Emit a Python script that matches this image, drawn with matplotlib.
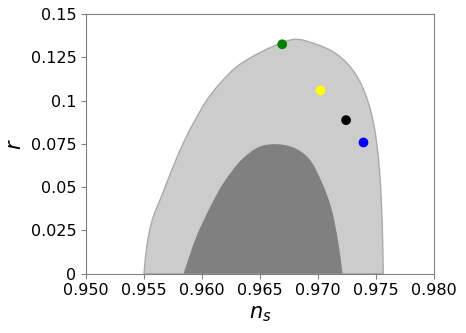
import matplotlib.pyplot as plt
import numpy as np
from matplotlib.path import Path
from matplotlib.patches import PathPatch

# outer (light) contour
outer_ns = [0.95500, 0.95523, 0.95570, 0.95660, 0.95750, 0.95850, 0.95940, 0.96040,
            0.96154, 0.96298, 0.96450, 0.96585, 0.96800, 0.96960, 0.97130, 0.97256,
            0.97343, 0.97403, 0.97446, 0.97480, 0.97506, 0.97528, 0.97545, 0.97555,
            0.97560]
outer_r = [0.0, 0.0155, 0.0309, 0.0463, 0.0617, 0.0771, 0.0887, 0.1002,
           0.1099, 0.1195, 0.1260, 0.1305, 0.1354, 0.1330, 0.1281, 0.1210,
           0.1129, 0.1043, 0.0956, 0.0858, 0.0742, 0.0598, 0.0396, 0.0194,
           0.0]

# inner (dark) contour
inner_ns = [0.9584, 0.9595, 0.9607, 0.9619, 0.9635, 0.9650, 0.9664, 0.9679,
            0.9692, 0.9703, 0.9711, 0.9717, 0.9721]
inner_r = [0.0, 0.0213, 0.0386, 0.0530, 0.0665, 0.0735, 0.0748, 0.0728,
           0.0665, 0.0530, 0.0386, 0.0194, 0.0]

# model points
pt_ns = [0.9669, 0.9702, 0.9724, 0.9739]
pt_r = [0.1325, 0.1059, 0.0887, 0.0758]
pt_colors = ['green', 'yellow', 'black', 'blue']


def smooth_path(xs, ys):
    # centripetal catmull-rom through the read points, as cubic bezier segments
    sx, sy = 1 / 0.03, 1 / 0.15
    p = np.column_stack([np.array(xs) * sx, np.array(ys) * sy])
    ext = np.vstack([2 * p[0] - p[1], p, 2 * p[-1] - p[-2]])
    t = np.concatenate([[0], np.cumsum(np.linalg.norm(np.diff(ext, axis=0), axis=1) ** 0.5)])
    verts = [p[0]]
    codes = [Path.MOVETO]
    for i in range(1, len(ext) - 2):
        p0, p1, p2, p3 = ext[i - 1:i + 3]
        t0, t1, t2, t3 = t[i - 1:i + 3]
        m1 = (t2 - t1) * ((p1 - p0) / (t1 - t0) - (p2 - p0) / (t2 - t0) + (p2 - p1) / (t2 - t1))
        m2 = (t2 - t1) * ((p2 - p1) / (t2 - t1) - (p3 - p1) / (t3 - t1) + (p3 - p2) / (t3 - t2))
        verts += [p1 + m1 / 3, p2 - m2 / 3, p2]
        codes += [Path.CURVE4] * 3
    verts.append(p[0])
    codes.append(Path.CLOSEPOLY)
    verts = np.array(verts) / [sx, sy]
    return Path(verts, codes)


fig = plt.figure(figsize=(4.66, 3.33), dpi=100)
ax = fig.add_axes([0.1845, 0.178, 0.7475, 0.78])

ax.add_patch(PathPatch(smooth_path(outer_ns, outer_r), facecolor='#cccccc',
                       edgecolor='#aaaaaa', linewidth=1.0))
ax.add_patch(PathPatch(smooth_path(inner_ns, inner_r), facecolor='#808080',
                       edgecolor='none'))
ax.scatter(pt_ns, pt_r, c=pt_colors, s=36, zorder=3)

ax.set_xlim(0.950, 0.980)
ax.set_ylim(0, 0.15)
ax.set_xticks(np.arange(0.950, 0.9801, 0.005))
ax.set_xticklabels(['0.950', '0.955', '0.960', '0.965', '0.970', '0.975', '0.980'])
ax.set_yticks([0, 0.025, 0.05, 0.075, 0.1, 0.125, 0.15])
ax.set_yticklabels(['0', '0.025', '0.05', '0.075', '0.1', '0.125', '0.15'])
ax.tick_params(labelsize=11.5, color='#808080')
for s in ax.spines.values():
    s.set_color('#808080')

ax.set_xlabel('$n_s$', fontsize=15)
ax.set_ylabel('$r$', fontsize=15)

plt.savefig('out.png', dpi=100)
